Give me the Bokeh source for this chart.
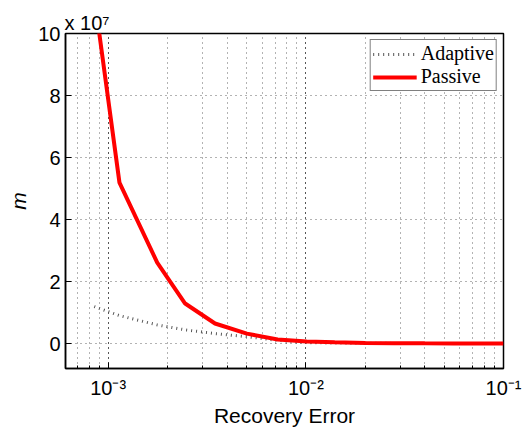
from bokeh.plotting import figure
from bokeh.models import (Range1d, FixedTicker, LogTicker, Legend, LegendItem, Title)
from bokeh.embed import file_html
from bokeh.resources import INLINE

# data (m in units of 1e7)
err_passive = [8.84e-4, 1.14e-3, 1.77e-3, 2.45e-3, 3.47e-3, 5.03e-3, 7.2e-3, 1.01e-2,
               1.4e-2, 2.0e-2, 2.8e-2, 4.0e-2, 5.6e-2, 8.0e-2, 1.0e-1]
m_passive = [10.4, 5.19, 2.61, 1.29, 0.645, 0.32, 0.13, 0.065,
             0.04, 0.02, 0.012, 0.006, 0.003, 0.0015, 0.001]
err_adaptive = [8.5e-4, 1.14e-3, 1.77e-3, 2.45e-3, 3.47e-3, 5.03e-3, 7.2e-3, 1.01e-2,
                1.4e-2, 2.0e-2, 2.8e-2, 4.0e-2, 5.6e-2, 8.0e-2, 1.0e-1]
m_adaptive = [1.19, 0.9, 0.6, 0.44, 0.32, 0.22, 0.1, 0.03,
              0.015, 0.008, 0.004, 0.002, 0.001, 0.0005, 0.0003]
y_ticks = [0, 2, 4, 6, 8, 10]
x_tick_labels = {1e-3: "10\u207b\u00b3", 1e-2: "10\u207b\u00b2", 1e-1: "10\u207b\u00b9"}
multiplier = "x 10\u2077"

FONT = "Liberation Sans"
FW, FH = 438, 335

p = figure(frame_width=FW, frame_height=FH, x_axis_type="log", output_backend="svg",
           toolbar_location=None, x_range=Range1d(6.08e-4, 1e-1),
           y_range=Range1d(-0.806, 10))
p.min_border_left = 65
p.min_border_top = 33
p.min_border_right = 22
p.min_border_bottom = 62
p.outline_line_color = "black"
p.outline_line_width = 1.5
p.background_fill_color = "white"
p.border_fill_color = "white"

p.title = Title(text=multiplier, align="left", text_font=FONT, text_font_size="20px",
                text_font_style="normal", text_color="black", standoff=0,
                offset=-1)

# grid
for g in (p.xgrid, p.ygrid):
    g.grid_line_color = "black"
    g.grid_line_alpha = 0.6
    g.grid_line_dash = "1 4"
    g.grid_line_width = 1
p.xgrid.minor_grid_line_color = "black"
p.xgrid.minor_grid_line_alpha = 0.6
p.xgrid.minor_grid_line_dash = "1 4"

p.xaxis.ticker = LogTicker(num_minor_ticks=10)
p.xaxis.major_label_overrides = x_tick_labels
p.yaxis.ticker = FixedTicker(ticks=y_ticks)
p.ygrid.ticker = FixedTicker(ticks=y_ticks)

for ax in (p.xaxis[0], p.yaxis[0]):
    ax.axis_line_color = "black"
    ax.axis_line_width = 1.5
    ax.major_tick_in = 6
    ax.major_tick_out = 0
    ax.minor_tick_in = 3
    ax.minor_tick_out = 0
    ax.major_tick_line_color = "black"
    ax.minor_tick_line_color = "black"
    ax.major_label_text_font = FONT
    ax.major_label_text_font_size = "20px"
    ax.major_label_text_color = "black"
    ax.axis_label_text_font = FONT
    ax.axis_label_text_font_size = "21px"
    ax.axis_label_text_color = "black"
    ax.axis_label_text_font_style = "normal"
p.yaxis.minor_tick_line_color = None
p.xaxis.major_label_standoff = 8
p.yaxis.major_label_standoff = 5
p.xaxis.axis_label = "Recovery Error"
p.xaxis.axis_label_standoff = 2
p.yaxis.axis_label = "m"
p.yaxis.axis_label_text_font_style = "italic"
p.yaxis.axis_label_standoff = 5
p.yaxis.major_label_orientation = "horizontal"

r_ad = p.line(err_adaptive, m_adaptive, line_color="#555555", line_width=3,
              line_dash="1 4")
r_pa = p.line(err_passive, m_passive, line_color="#ff0000", line_width=4)

legend = Legend(items=[LegendItem(label="Adaptive", renderers=[r_ad]),
                       LegendItem(label="Passive", renderers=[r_pa])],
                location="top_right")
legend.label_text_font = "Liberation Serif"
legend.label_text_font_size = "20px"
legend.label_text_color = "black"
legend.border_line_color = "black"
legend.border_line_width = 1
legend.spacing = 0
legend.padding = 2
legend.margin = 6
legend.glyph_width = 44
legend.glyph_height = 16
legend.label_height = 16
legend.label_standoff = 4
legend.background_fill_alpha = 1
p.add_layout(legend)

open("out.html", "w").write(file_html(p, INLINE))
